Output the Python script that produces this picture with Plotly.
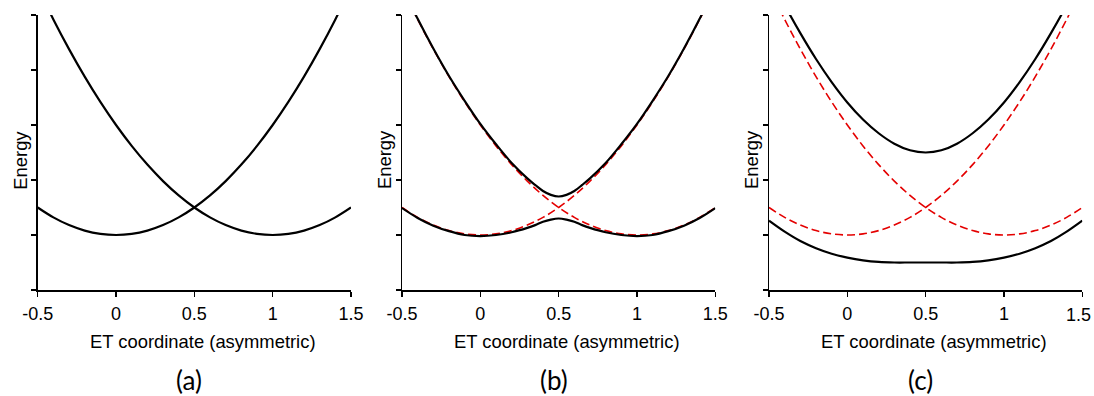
import plotly.graph_objects as go

# ---- data ----
x_coord = [-0.5, -0.4, -0.3, -0.2, -0.1, 0.0, 0.1, 0.2, 0.3, 0.4, 0.5,
           0.6, 0.7, 0.8, 0.9, 1.0, 1.1, 1.2, 1.3, 1.4, 1.5]

# diabatic (uncoupled) parabolas
diab_left = [1.50, 1.32, 1.18, 1.08, 1.02, 1.00, 1.02, 1.08, 1.18, 1.32, 1.50,
             1.72, 1.98, 2.28, 2.62, 3.00, 3.42, 3.88, 4.38, 4.92, 5.50]
diab_right = [5.50, 4.92, 4.38, 3.88, 3.42, 3.00, 2.62, 2.28, 1.98, 1.72, 1.50,
              1.32, 1.18, 1.08, 1.02, 1.00, 1.02, 1.08, 1.18, 1.32, 1.50]

# panel (b): weak coupling adiabatic curves (denser near the avoided crossing)
x_b = [-0.5, -0.4, -0.3, -0.2, -0.1, 0.0, 0.1, 0.2, 0.3, 0.35, 0.4, 0.45, 0.5,
       0.55, 0.6, 0.65, 0.7, 0.8, 0.9, 1.0, 1.1, 1.2, 1.3, 1.4, 1.5]
b_lower = [1.49, 1.31, 1.17, 1.07, 1.00, 0.98, 1.00, 1.05, 1.13, 1.18, 1.24, 1.28, 1.30,
           1.28, 1.24, 1.18, 1.13, 1.05, 1.00, 0.98, 1.00, 1.07, 1.17, 1.31, 1.49]
b_upper = [5.51, 4.93, 4.39, 3.89, 3.44, 3.02, 2.65, 2.31, 2.03, 1.91, 1.80, 1.73, 1.70,
           1.73, 1.80, 1.91, 2.03, 2.31, 2.65, 3.02, 3.44, 3.89, 4.39, 4.93, 5.51]

# panel (c): strong coupling adiabatic curves
c_lower = [1.26, 1.06, 0.89, 0.76, 0.66, 0.59, 0.54, 0.51, 0.50, 0.50, 0.50,
           0.50, 0.50, 0.51, 0.54, 0.59, 0.66, 0.76, 0.89, 1.06, 1.26]
c_upper = [5.74, 5.18, 4.67, 4.20, 3.78, 3.41, 3.10, 2.85, 2.66, 2.54, 2.50,
           2.54, 2.66, 2.85, 3.10, 3.41, 3.78, 4.20, 4.67, 5.18, 5.74]

x_ticks = [-0.5, 0, 0.5, 1, 1.5]
x_tick_labels = ["-0.5", "0", "0.5", "1", "1.5"]
y_ticks = [0, 1, 2, 3, 4, 5]
x_title = "ET coordinate (asymmetric)"
y_title = "Energy"
panel_labels = ["(a)", "(b)", "(c)"]

# ---- layout geometry (window pixels) ----
W, H = 1094, 396
panel_left_px = [37.7, 402.0, 769.0]
panel_width_px = 313.3
plot_top_px, plot_bottom_px = 15.0, 290.0

BLACK = "black"
RED = "rgb(228,0,0)"
SANS = "Liberation Sans, Arial, sans-serif"

fig = go.Figure()

def black_line(x, y, ax):
    return go.Scatter(x=x, y=y, mode="lines", line=dict(color=BLACK, width=2.2, shape="spline"),
                      xaxis="x" + ax, yaxis="y" + ax, showlegend=False, hoverinfo="skip")

def red_line(x, y, ax):
    return go.Scatter(x=x, y=y, mode="lines",
                      line=dict(color=RED, width=1.6, dash="8px,4px", shape="spline"),
                      xaxis="x" + ax, yaxis="y" + ax, showlegend=False, hoverinfo="skip")

# panel (a)
fig.add_trace(black_line(x_coord, diab_left, ""))
fig.add_trace(black_line(x_coord, diab_right, ""))
# panel (b)
fig.add_trace(red_line(x_coord, diab_left, "2"))
fig.add_trace(red_line(x_coord, diab_right, "2"))
fig.add_trace(black_line(x_b, b_lower, "2"))
fig.add_trace(black_line(x_b, b_upper, "2"))
# panel (c)
fig.add_trace(red_line(x_coord, diab_left, "3"))
fig.add_trace(red_line(x_coord, diab_right, "3"))
fig.add_trace(black_line(x_coord, c_lower, "3"))
fig.add_trace(black_line(x_coord, c_upper, "3"))

tick_font = dict(family=SANS, size=18, color=BLACK)
title_font = dict(family=SANS, size=18.4, color=BLACK)
ydom = [1 - plot_bottom_px / H, 1 - plot_top_px / H]

layout = dict(
    width=W, height=H,
    margin=dict(l=0, r=0, t=0, b=0),
    paper_bgcolor="white", plot_bgcolor="white",
    showlegend=False, hovermode=False,
    annotations=[],
)

for i, L in enumerate(panel_left_px):
    suf = "" if i == 0 else str(i + 1)
    xd = [L / W, (L + panel_width_px) / W]
    labels = list(x_tick_labels)
    if i == 2:
        labels[-1] = ""  # drawn below as text nudged inside the page edge
    layout["xaxis" + suf] = dict(
        domain=xd, range=[-0.5, 1.5], tickvals=x_ticks, ticktext=labels,
        showline=True, linecolor=BLACK, linewidth=1.5, mirror=False,
        ticks="outside", ticklen=5, tickwidth=1.5, tickcolor=BLACK,
        showgrid=False, zeroline=False, tickfont=tick_font, ticklabeloverflow="allow",
        ticklabelstandoff=2,
        anchor="y" + suf, automargin=False, fixedrange=True,
    )
    layout["yaxis" + suf] = dict(
        domain=ydom, range=[0, 5], tickvals=y_ticks, showticklabels=False,
        showline=True, linecolor=BLACK, linewidth=1.5,
        ticks="outside", ticklen=5, tickwidth=1.5, tickcolor=BLACK,
        showgrid=False, zeroline=False, anchor="x" + suf, automargin=False, fixedrange=True,
    )
    cx = L + panel_width_px / 2
    layout["annotations"].append(dict(
        text=x_title, xref="paper", yref="paper", x=(cx + 8.5) / W, y=1 - 341.5 / H,
        xanchor="center", yanchor="middle", showarrow=False, font=title_font))
    layout["annotations"].append(dict(
        text=panel_labels[i], xref="paper", yref="paper", x=(cx - 5) / W, y=1 - 380 / H,
        xanchor="center", yanchor="middle", showarrow=False,
        font=dict(family="Lato, Carlito, sans-serif", size=26, color=BLACK)))
    layout["annotations"].append(dict(
        text=y_title, xref="paper", yref="paper", x=(L - 17) / W, y=1 - 160 / H,
        xanchor="center", yanchor="middle", showarrow=False, textangle=-90,
        font=title_font))

# last tick label of panel (c), kept inside the page edge as in the reference
layout["annotations"].append(dict(
    text=x_tick_labels[-1], xref="x3", yref="paper", x=x_ticks[-1], xshift=-4,
    y=1 - 314.5 / H, xanchor="center", yanchor="middle", showarrow=False,
    font=tick_font))

fig.update_layout(**layout)
fig.write_html(
    "out.html",
    config={"displayModeBar": False, "staticPlot": True},
    post_script="document.body.style.margin='0';document.body.style.overflow='hidden';",
)
